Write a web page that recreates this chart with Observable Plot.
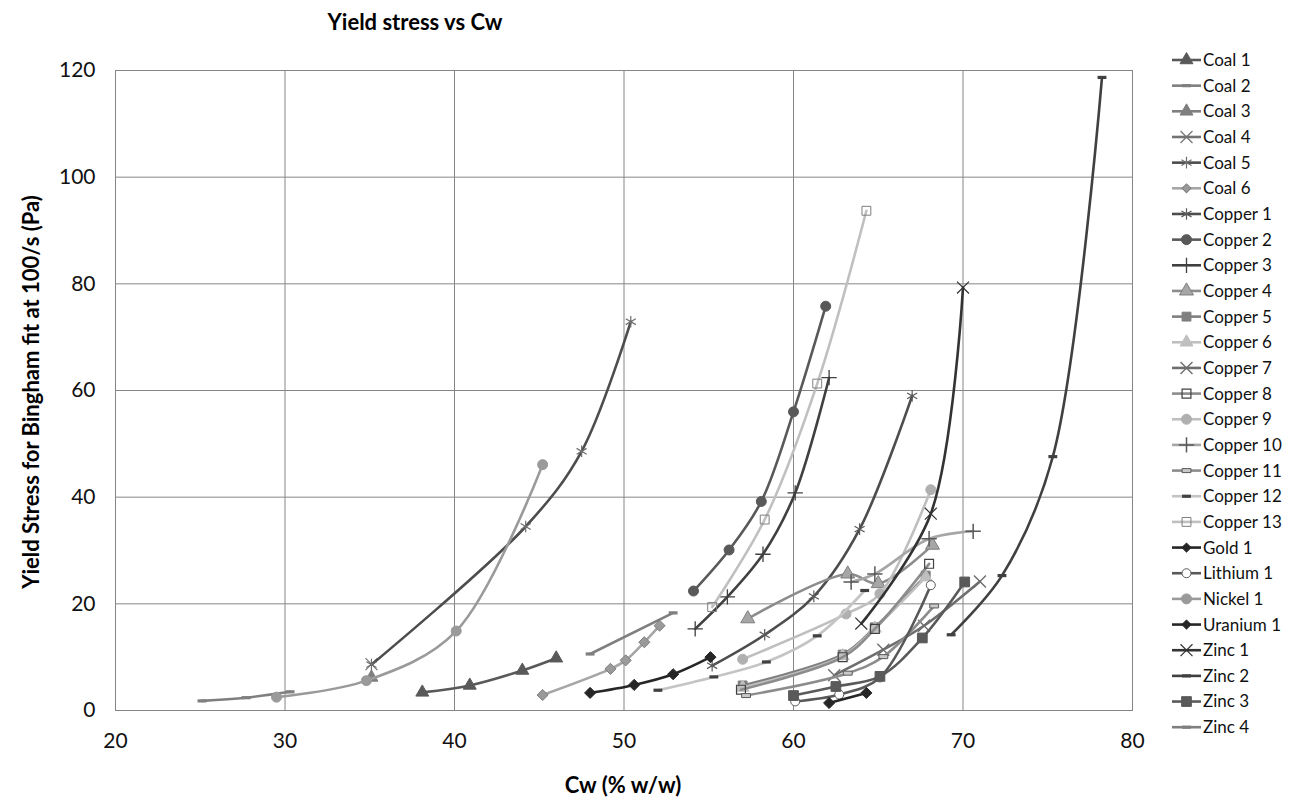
<!DOCTYPE html>
<html><head><meta charset="utf-8">
<script src="https://cdn.jsdelivr.net/npm/d3@7"></script>
<script src="https://cdn.jsdelivr.net/npm/@observablehq/plot@0.6"></script>
<style>
body{margin:0;background:#fff;font-family:Lato,"Open Sans",sans-serif;}
#wrap{position:relative;width:1301px;height:800px;overflow:hidden;}
#chart{position:absolute;left:0;top:0;}
#title{position:absolute;left:215px;width:400px;top:8px;text-align:center;font-weight:bold;font-size:22px;color:#000;}
#ylab{position:absolute;left:30px;top:392px;transform:translate(-50%,-50%) rotate(-90deg);white-space:nowrap;font-weight:bold;font-size:22px;color:#000;}
#xlab{position:absolute;left:623px;top:784px;transform:translate(-50%,-50%);white-space:nowrap;font-weight:bold;font-size:22px;color:#000;}
#legend{position:absolute;left:1160px;top:0;}
</style></head>
<body><div id="wrap"><div id="chart"></div>
<div id="title">Yield stress vs Cw</div>
<div id="ylab">Yield Stress for Bingham fit at 100/s (Pa)</div>
<div id="xlab">Cw (% w/w)</div>
<svg id="legend" width="141" height="800"></svg>
</div>
<script>
// ---- data ----
const xTicks = [20, 30, 40, 50, 60, 70, 80];
const yTicks = [0, 20, 40, 60, 80, 100, 120];
const names = ["Coal 1","Coal 2","Coal 3","Coal 4","Coal 5","Coal 6","Copper 1","Copper 2","Copper 3","Copper 4","Copper 5","Copper 6","Copper 7","Copper 8","Copper 9","Copper 10","Copper 11","Copper 12","Copper 13","Gold 1","Lithium 1","Nickel 1","Uranium 1","Zinc 1","Zinc 2","Zinc 3","Zinc 4"];
const coal1 = [[38.1,3.4],[40.9,4.7],[44.0,7.5],[46.0,9.8]];
const coal2 = [[25.1,1.8],[27.7,2.4],[30.3,3.5]];
const coal3 = [[35.1,6.2]];
const coal4 = [[35.1,8.7]];
const coal5 = [[35.1,8.6],[44.2,34.5],[47.5,48.6],[50.4,72.9]];
const coal6 = [[45.2,2.9],[49.2,7.8],[50.1,9.4],[51.2,12.8],[52.1,15.9]];
const copper1 = [[55.2,8.4],[58.3,14.2],[61.2,21.4],[63.9,34.0],[67.0,59.0]];
const copper2 = [[54.1,22.4],[56.2,30.1],[58.1,39.2],[60.0,56.0],[61.9,75.8]];
const copper3 = [[54.2,15.3],[56.1,21.3],[58.2,29.3],[60.1,40.8],[62.1,62.4]];
const copper4 = [[57.3,17.2],[63.2,25.6],[65.0,23.8],[68.2,31.0]];
const copper5 = [[57.0,4.7],[62.9,10.5],[64.8,15.6],[67.8,25.3]];
const copper6 = [[57.0,4.3],[62.9,10.2],[64.8,15.4],[67.8,25.0]];
const copper7 = [[62.4,6.6],[65.3,11.4],[67.7,15.9],[71.0,24.2]];
const copper8 = [[56.9,3.9],[62.9,10.0],[64.8,15.3],[68.0,27.5]];
const copper9 = [[57.0,9.6],[63.1,18.1],[65.1,21.9],[68.1,41.4]];
const copper10 = [[63.4,24.1],[64.8,25.6],[68.0,32.2],[70.6,33.6]];
const copper11 = [[57.2,2.8],[63.2,7.0],[65.3,10.1],[68.3,19.6]];
const copper12 = [[52.0,3.8],[55.3,6.3],[58.4,9.1],[61.4,14.0],[64.2,22.5]];
const copper13 = [[55.2,19.4],[58.3,35.8],[61.4,61.3],[64.3,93.7]];
const gold1 = [[48.0,3.3],[50.6,4.8],[52.9,6.8],[55.1,10.0]];
const lithium1 = [[60.1,1.7],[62.7,3.0],[65.1,6.2],[68.1,23.5]];
const nickel1 = [[29.5,2.5],[34.8,5.6],[40.1,14.9],[45.2,46.1]];
const uranium1 = [[62.1,1.4],[64.3,3.3]];
const zinc1 = [[64.0,16.3],[68.1,36.9],[70.0,79.3]];
const zinc2 = [[69.3,14.2],[72.3,25.3],[75.3,47.6],[78.2,118.7]];
const zinc3 = [[60.0,2.8],[62.5,4.5],[65.1,6.4],[67.6,13.6],[70.1,24.1]];
const zinc4 = [[48.0,10.6],[52.9,18.3]];
const values = [coal1,coal2,coal3,coal4,coal5,coal6,copper1,copper2,copper3,copper4,copper5,copper6,copper7,copper8,copper9,copper10,copper11,copper12,copper13,gold1,lithium1,nickel1,uranium1,zinc1,zinc2,zinc3,zinc4];

// ---- styles ----
const dash = {draw(ctx, size){ const w = Math.sqrt(size); ctx.rect(-w/2, -1.6, w, 3.2); }};
const smallRect = {draw(ctx, size){ const w = Math.sqrt(size); ctx.rect(-w/2, -2, w, 4); }};
const S = (line, marker, fill, mstroke, r, sw) => ({line, marker, fill, mstroke, r, sw});
const styles = [
  S("#595959","triangle","#595959","#595959",4.8,1), // Coal 1
  S("#7f7f7f",dash,"#7f7f7f","none",5,0),            // Coal 2
  S("#7f7f7f","triangle","#7f7f7f","#7f7f7f",4.8,1), // Coal 3
  S("#737373","times","none","#737373",5.5,1.2),     // Coal 4
  S("#4d4d4d","asterisk","none","#6e6e6e",5.5,1.2),  // Coal 5
  S("#a6a6a6","diamond2","#9a9a9a","#7f7f7f",5,1),   // Coal 6
  S("#4d4d4d","asterisk","none","#5a5a5a",5.5,1.2),  // Copper 1
  S("#595959","circle","#595959","#595959",5,1),     // Copper 2
  S("#404040","plus","none","#404040",5,1.3),        // Copper 3
  S("#8c8c8c","triangle","#a6a6a6","#7f7f7f",5.2,1), // Copper 4
  S("#7f7f7f","square","#7f7f7f","#7f7f7f",5,1),     // Copper 5
  S("#bfbfbf","triangle","#bfbfbf","#bfbfbf",4.8,1), // Copper 6
  S("#6e6e6e","times","none","#6e6e6e",5.5,1.4),     // Copper 7
  S("#8c8c8c","square","none","#404040",5,1.2),      // Copper 8
  S("#bfbfbf","circle","#b0b0b0","#b0b0b0",5,1),     // Copper 9
  S("#a6a6a6","plus","none","#595959",5,1.5),        // Copper 10
  S("#8c8c8c",smallRect,"#c8c8c8","#595959",5,1),    // Copper 11
  S("#c4c4c4",dash,"#404040","none",5,0),            // Copper 12
  S("#c0c0c0","square","none","#7f7f7f",5,1),        // Copper 13
  S("#262626","diamond2","#262626","#262626",5,1),   // Gold 1
  S("#595959","circle","#ffffff","#595959",4.5,1),   // Lithium 1
  S("#9a9a9a","circle","#9a9a9a","#9a9a9a",5,1),     // Nickel 1
  S("#262626","diamond2","#262626","#262626",5,1),   // Uranium 1
  S("#333333","times","none","#333333",5.5,1.2),     // Zinc 1
  S("#404040",dash,"#404040","none",5,0),            // Zinc 2
  S("#5a5a5a","square","#5a5a5a","#5a5a5a",5.5,1),   // Zinc 3
  S("#7f7f7f",dash,"#7f7f7f","none",5,0)             // Zinc 4
];

const marks = [
  Plot.gridX({ticks: xTicks, stroke: "#868686", strokeOpacity: 1}),
  Plot.gridY({ticks: yTicks, stroke: "#868686", strokeOpacity: 1}),
  Plot.frame({stroke: "#868686"}),
  Plot.axisX({ticks: xTicks, tickSize: 0, tickPadding: 23, label: null, fontSize: 21, fill: "#111"}),
  Plot.axisY({ticks: yTicks, tickSize: 0, tickPadding: 20, label: null, fontSize: 21, fill: "#111"})
];
names.forEach((name, i) => {
  const rows = values[i].map(([x, y]) => ({name, x, y}));
  const s = styles[i];
  marks.push(Plot.line(rows, {x: "x", y: "y", stroke: s.line, strokeWidth: 2.6, curve: "catmull-rom"}));
  marks.push(Plot.dot(rows, {x: "x", y: "y", symbol: s.marker, r: s.r, fill: s.fill, stroke: s.mstroke, strokeWidth: s.sw}));
});

const chart = Plot.plot({
  width: 1160, height: 800,
  marginLeft: 115, marginRight: 28, marginTop: 70, marginBottom: 90,
  x: {domain: [20, 80]},
  y: {domain: [0, 120]},
  style: {fontFamily: "Lato, 'Open Sans', sans-serif", fontSize: "21px", background: "transparent", color: "#111"},
  marks
});
document.getElementById("chart").appendChild(chart);

// ---- legend ----
const symMap = {triangle: d3.symbolTriangle, circle: d3.symbolCircle, square: d3.symbolSquare, diamond2: d3.symbolSquare, times: d3.symbolTimes, plus: d3.symbolPlus, asterisk: d3.symbolAsterisk};
const lg = d3.select("#legend");
names.forEach((name, i) => {
  const s = styles[i];
  const y = 60 + i * 27.8 * 24 / (names.length - 1);
  const g = lg.append("g").attr("transform", `translate(0,${y})`);
  g.append("line").attr("x1", 12).attr("x2", 41).attr("y1", 0).attr("y2", 0).attr("stroke", s.line).attr("stroke-width", 2.6);
  const sym = typeof s.marker === "string" ? symMap[s.marker] : s.marker;
  g.append("path").attr("transform", s.marker === "diamond2" ? "translate(26.5,0) rotate(45)" : "translate(26.5,0)")
    .attr("d", d3.symbol(sym, s.r * s.r * Math.PI * (s.marker === "diamond2" ? 0.5 : 1))())
    .attr("fill", s.fill).attr("stroke", s.mstroke).attr("stroke-width", s.sw);
  g.append("text").attr("x", 43).attr("y", 0).attr("dy", "0.35em").attr("font-size", 17).attr("fill", "#111")
    .attr("font-family", "Lato, 'Open Sans', sans-serif").text(name);
});
</script>
</body></html>
